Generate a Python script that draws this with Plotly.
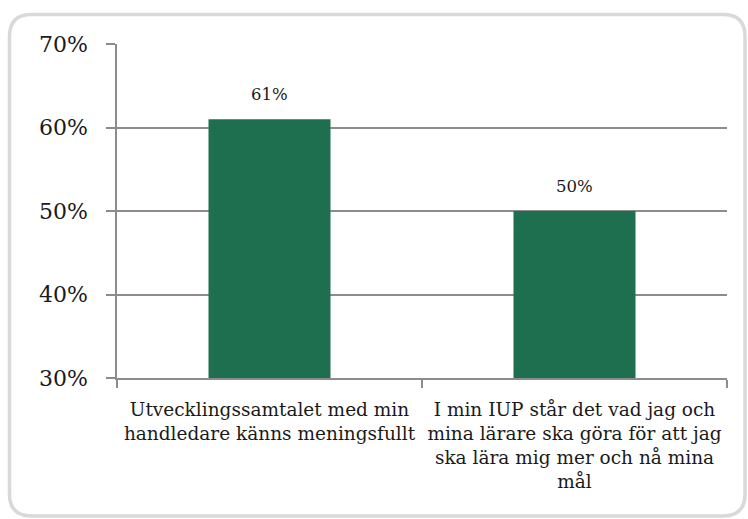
import plotly.graph_objects as go

categories = [
    "Utvecklingssamtalet med min<br>handledare känns meningsfullt",
    "I min IUP står det vad jag och<br>mina lärare ska göra för att jag<br>ska lära mig mer och nå mina<br>mål",
]
values = [61, 50]
y_ticks = [30, 40, 50, 60, 70]
y_tick_labels = ["30%", "40%", "50%", "60%", "70%"]

W, H = 748, 519
L, R, T, B = 117, 21, 44, 141
pw, ph = W - L - R, H - T - B

FONT = "DejaVu Serif, Liberation Serif, serif"
BAR = "#1E6F50"
GRID = "#8C8C8C"
TEXT = "#1a1a1a"

fig = go.Figure(
    go.Bar(
        x=categories,
        y=values,
        marker=dict(color=BAR, line=dict(width=0)),
        width=0.4,
        hoverinfo="skip",
    )
)

# value labels above each bar
for c, v in zip(categories, values):
    fig.add_annotation(
        x=c, y=v, text=f"{v}%", showarrow=False,
        yanchor="bottom", yshift=13,
        font=dict(family=FONT, size=16.5, color=TEXT),
    )


def P(x, y):
    px, py = (x - L) / pw, (H - B - y) / ph
    return f"{px:.5f},{py:.5f}"


# rounded frame around the whole chart
x0, y0, x1, y1, r = 9.5, 14.5, 745.0, 516.0, 22.0
path = (
    f"M {P(x0 + r, y0)} L {P(x1 - r, y0)} Q {P(x1, y0)} {P(x1, y0 + r)} "
    f"L {P(x1, y1 - r)} Q {P(x1, y1)} {P(x1 - r, y1)} "
    f"L {P(x0 + r, y1)} Q {P(x0, y1)} {P(x0, y1 - r)} "
    f"L {P(x0, y0 + r)} Q {P(x0, y0)} {P(x0 + r, y0)} Z"
)

fig.update_layout(
    width=W,
    height=H,
    margin=dict(l=L, r=R, t=T, b=B),
    paper_bgcolor="white",
    plot_bgcolor="white",
    showlegend=False,
    bargap=0.6,
    font=dict(family=FONT, color=TEXT),
    shapes=[
        dict(
            type="path",
            path=path,
            xref="paper",
            yref="paper",
            line=dict(color="#D9D9D9", width=3.5),
            fillcolor="rgba(0,0,0,0)",
            layer="below",
        )
    ],
    xaxis=dict(
        type="category",
        tickson="boundaries",
        ticks="outside",
        ticklen=8,
        tickwidth=1.5,
        tickcolor=GRID,
        showline=True,
        linecolor=GRID,
        linewidth=2,
        showgrid=False,
        ticklabelstandoff=14,
        tickfont=dict(family=FONT, size=18.5, color=TEXT),
    ),
    yaxis=dict(
        range=[30, 70],
        tickvals=y_ticks,
        ticktext=y_tick_labels,
        ticks="outside",
        ticklen=9,
        tickwidth=1.5,
        tickcolor=GRID,
        showline=True,
        linecolor=GRID,
        linewidth=1.5,
        showgrid=True,
        gridcolor=GRID,
        gridwidth=1.5,
        zeroline=False,
        ticklabelstandoff=14,
        tickfont=dict(family=FONT, size=22, color=TEXT),
    ),
)

fig.write_html("out.html")
